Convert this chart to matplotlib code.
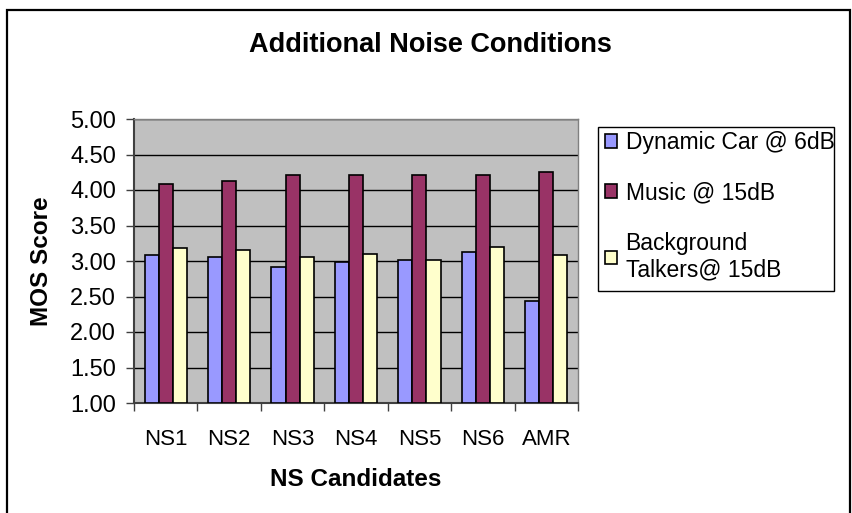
import numpy as np
import matplotlib
matplotlib.use("Agg")
import matplotlib.pyplot as plt
from matplotlib.patches import Rectangle

plt.rcParams['font.family'] = ['Liberation Sans', 'DejaVu Sans']

# data
candidates = ["NS1", "NS2", "NS3", "NS4", "NS5", "NS6", "AMR"]
dynamic_car = [3.08, 3.05, 2.91, 2.98, 3.01, 3.12, 2.43]
music = [4.08, 4.12, 4.21, 4.21, 4.21, 4.21, 4.26]
talkers = [3.18, 3.15, 3.06, 3.10, 3.01, 3.20, 3.08]

series_names = ["Dynamic Car @ 6dB", "Music @ 15dB", "Background\nTalkers@ 15dB"]
colors = ["#9999FF", "#993366", "#FFFFCC"]

fig = plt.figure(figsize=(8.52, 5.13), dpi=100)
W, H = 852, 513

# outer chart border
fig.patches.append(Rectangle((7 / W, -0.01), (850 - 7) / W, 1.01 - 10 / H,
                             transform=fig.transFigure, fill=False,
                             edgecolor="black", linewidth=1.6))
# legend box (text runs slightly past it, as in the original)
fig.patches.append(Rectangle((598 / W, 1 - 291 / H), (834 - 598) / W, (291 - 127) / H,
                             transform=fig.transFigure, fill=False,
                             edgecolor="black", linewidth=1))

ax = fig.add_axes([134 / W, 1 - 403 / H, (578 - 134) / W, (403 - 119) / H])
ax.set_facecolor("#C0C0C0")

x = np.arange(len(candidates))
bw = 1 / 4.5  # excel gap width 150%
for i, (vals, name, c) in enumerate(zip([dynamic_car, music, talkers], series_names, colors)):
    ax.bar(x + (i - 1) * bw, np.array(vals) - 1.0, bw, bottom=1.0, color=c,
           edgecolor="black", linewidth=1.2, label=name, zorder=3)

ax.set_xlim(-0.5, len(candidates) - 0.5)
ax.set_ylim(1.0, 5.0)
yt = np.arange(1.0, 5.01, 0.5)
ax.set_yticks(yt)
ax.set_yticklabels([f"{v:.2f}" for v in yt], fontsize=17)
ax.set_xticks(x)
ax.set_xticklabels(candidates, fontsize=16)
ax.set_xticks(np.arange(-0.5, len(candidates)), minor=True)
ax.tick_params(axis="x", which="major", length=0, pad=19)
ax.tick_params(axis="x", which="minor", length=6, color="#404040", width=1)
ax.tick_params(axis="y", length=6, color="#404040", width=1, pad=7)
ax.yaxis.grid(True, color="black", linewidth=1, zorder=1)
ax.set_axisbelow(True)

for s in ["top", "right"]:
    ax.spines[s].set_color("#808080")
    ax.spines[s].set_linewidth(1)
for s in ["left", "bottom"]:
    ax.spines[s].set_color("#404040")
    ax.spines[s].set_linewidth(1.5)

ax.set_xlabel("NS Candidates", fontsize=17.5, fontweight="bold", labelpad=13)
ax.set_ylabel("MOS Score", fontsize=17.5, fontweight="bold", labelpad=12)
fig.text(430 / W, 1 - 45 / H, "Additional Noise Conditions", fontsize=19.5,
         fontweight="bold", ha="center", va="center")

leg = ax.legend(loc="upper left", bbox_to_anchor=(598 / W, 1 - 124 / H),
                bbox_transform=fig.transFigure, fontsize=16.5, frameon=False,
                handlelength=0.55, handleheight=0.55, handletextpad=0.35,
                labelspacing=1.2, borderpad=0.3, borderaxespad=0)

fig.savefig("out.png", dpi=100)
